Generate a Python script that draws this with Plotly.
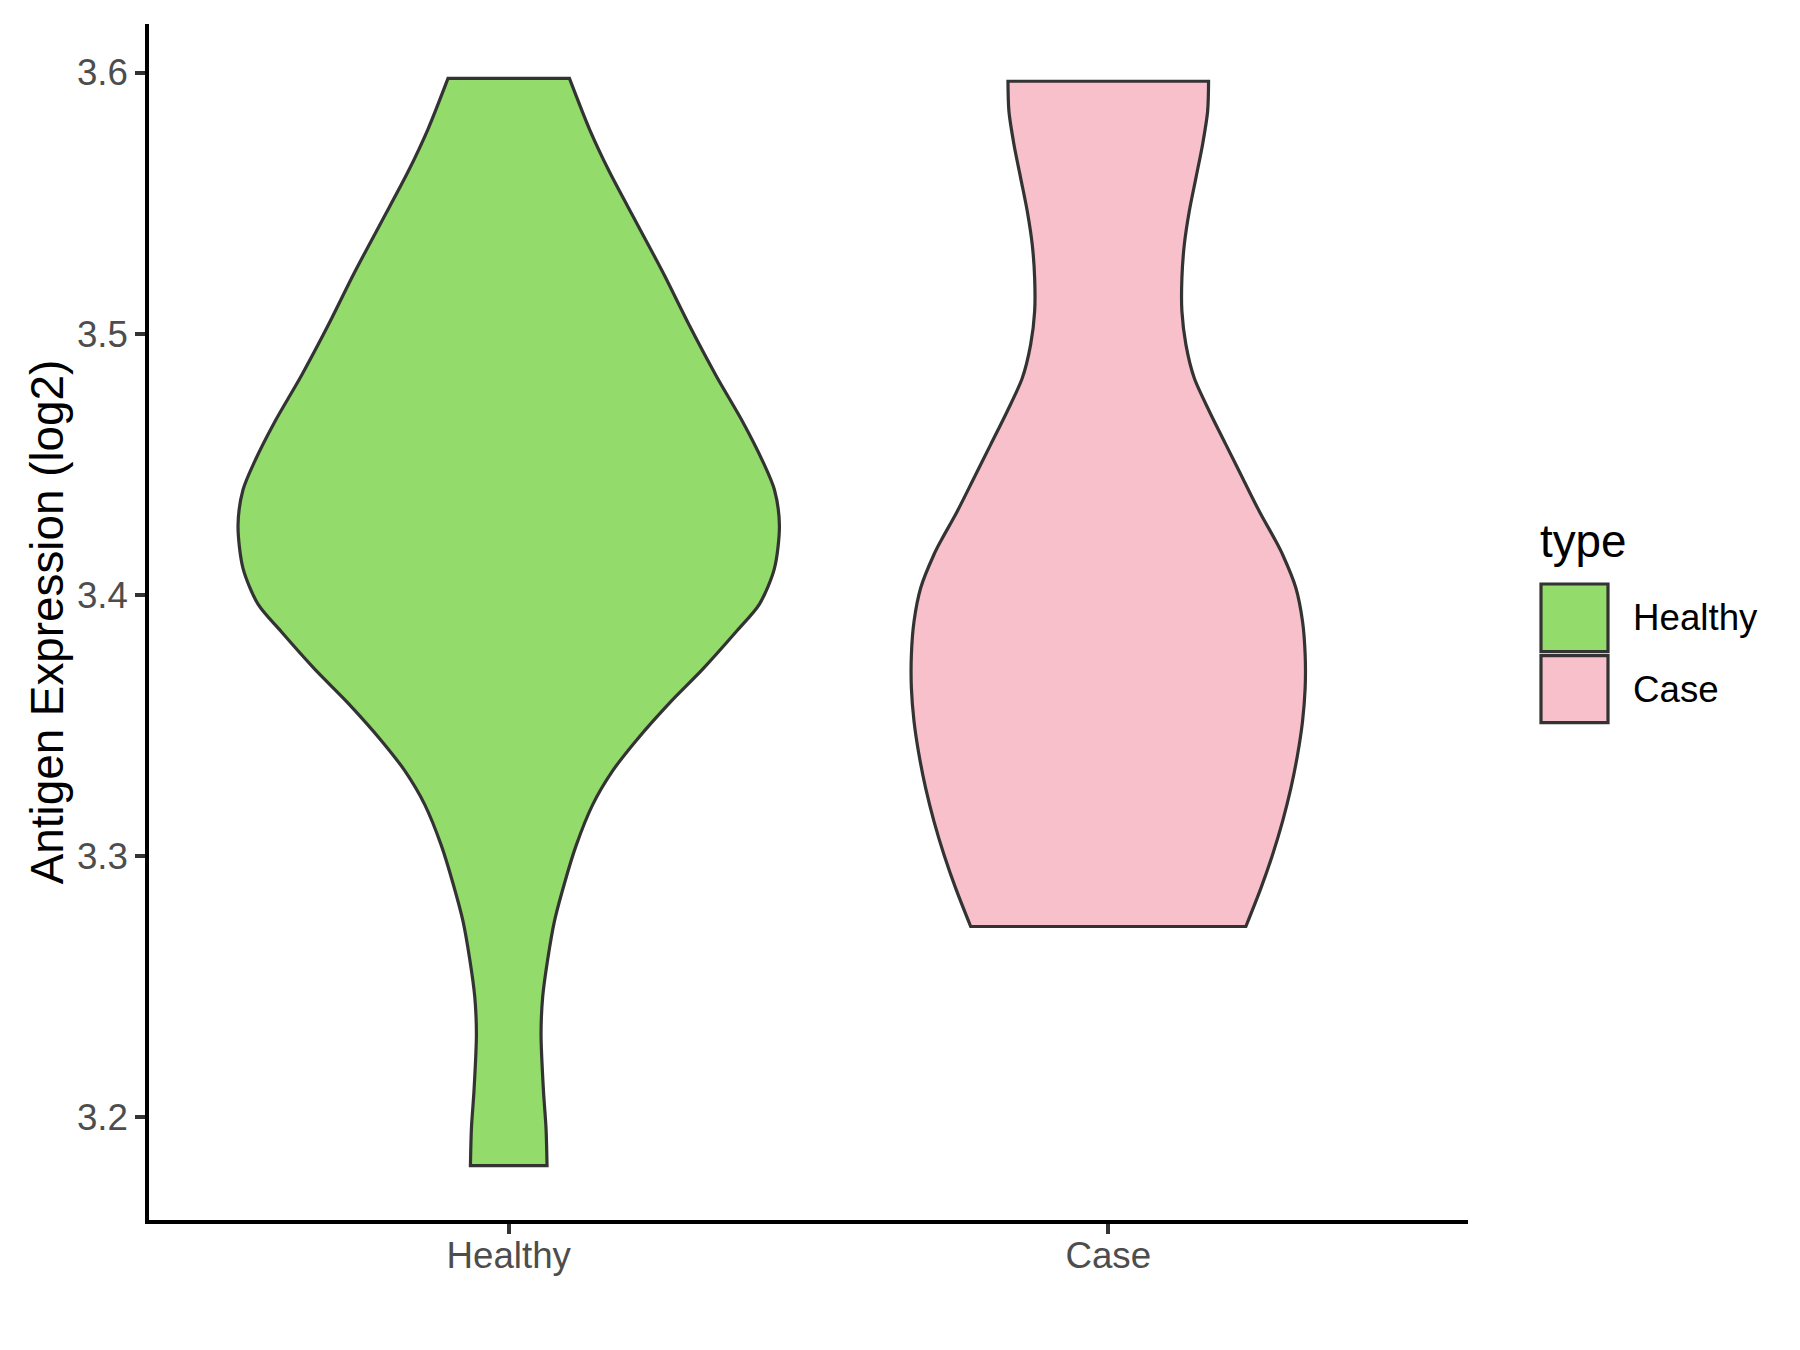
import plotly.graph_objects as go
import numpy as np

# violin outlines: expression level vs half-width (in category units)
healthy_y = [3.5978, 3.5784, 3.5620, 3.5428, 3.5236, 3.5031, 3.4839, 3.4662, 3.4511, 3.4402,
             3.4265, 3.4101, 3.3964, 3.3859, 3.3715, 3.3585, 3.3441, 3.3326, 3.3196, 3.3038,
             3.2894, 3.2749, 3.2605, 3.2461, 3.2317, 3.2101, 3.1957, 3.1813]
healthy_w = [0.1013, 0.1346, 0.1680, 0.2124, 0.2569, 0.3014, 0.3459, 0.3904, 0.4237, 0.4432,
             0.4515, 0.4432, 0.4182, 0.3796, 0.3236, 0.2680, 0.2124, 0.1735, 0.1401, 0.1122,
             0.0929, 0.0762, 0.0651, 0.0567, 0.0539, 0.0579, 0.0622, 0.0639]

case_y = [3.5967, 3.5852, 3.5725, 3.5597, 3.5469, 3.5341, 3.5213, 3.5086, 3.4958, 3.4830,
          3.4703, 3.4575, 3.4447, 3.4320, 3.4205, 3.4154, 3.4026, 3.3898, 3.3770, 3.3643,
          3.3515, 3.3387, 3.3259, 3.3132, 3.3004, 3.2876, 3.2729]
case_w = [0.1673, 0.1657, 0.1573, 0.1462, 0.1351, 0.1268, 0.1228, 0.1228, 0.1295, 0.1434,
          0.1685, 0.1962, 0.2240, 0.2518, 0.2795, 0.2907, 0.3129, 0.3240, 0.3284, 0.3284,
          0.3240, 0.3157, 0.3046, 0.2907, 0.2740, 0.2546, 0.2295]

groups = ["Healthy", "Case"]
colors = ["#93DB6A", "#F7C0CB"]
outline = "#333333"

W, H = 1800, 1350
L, R, T, B = 146, 1465, 24, 1220   # plot area in pixels (as seen on the page)
OFF_X, OFF_Y = 5, 8                 # page body offset


def px(x):
    return (x - L) / (R - L)


def py(y):
    return (B - y) / (B - T)


fig = go.Figure()
for i, (ys, ws) in enumerate([(healthy_y, healthy_w), (case_y, case_w)]):
    pos = i + 1
    ys = np.array(ys)
    ws = np.array(ws)
    # corner points doubled so the spline keeps the flat ends square
    right_x = np.concatenate([[pos + ws[0]], pos + ws, [pos + ws[-1]]])
    right_y = np.concatenate([[ys[0]], ys, [ys[-1]]])
    xs = np.concatenate([right_x, (2 * pos - right_x)[::-1], [right_x[0]]])
    yy = np.concatenate([right_y, right_y[::-1], [right_y[0]]])
    fig.add_trace(go.Scatter(x=xs, y=yy, mode="lines", fill="toself", fillcolor=colors[i],
                             line=dict(color=outline, width=3.2, shape="spline", smoothing=0.8),
                             name=groups[i], showlegend=False, hoverinfo="skip"))

lo = min(healthy_y + case_y)
hi = max(healthy_y + case_y)
pad = (hi - lo) * 0.05

fig.update_xaxes(range=[0.4, 2.6], tickvals=[1, 2], ticktext=groups,
                 showline=True, linecolor="black", linewidth=3.5,
                 ticks="outside", ticklen=10, tickwidth=3.5, tickcolor=outline,
                 ticklabelstandoff=-10,
                 tickfont=dict(size=36.7, color="#4D4D4D"), showgrid=False, zeroline=False)
fig.update_yaxes(range=[lo - pad, hi + pad], tickvals=[3.2, 3.3, 3.4, 3.5, 3.6],
                 ticktext=["3.2", "3.3", "3.4", "3.5", "3.6"],
                 showline=True, linecolor="black", linewidth=3.5,
                 ticks="outside", ticklen=10, tickwidth=3.5, tickcolor=outline,
                 tickfont=dict(size=36.7, color="#4D4D4D"), showgrid=False, zeroline=False,
                 title=dict(text="Antigen Expression (log2)", font=dict(size=45.8, color="black"),
                            standoff=0))

# legend drawn by hand to get ggplot-style square keys
keys = [(584, 651.7), (655.7, 722.7)]
for (y0, y1), c, g in zip(keys, colors, groups):
    fig.add_shape(type="rect", xref="paper", yref="paper",
                  x0=px(1538), x1=px(1605), y0=py(y1), y1=py(y0),
                  fillcolor=c, line=dict(color=outline, width=3.2))
    fig.add_annotation(x=px(1628), y=py((y0 + y1) / 2), xref="paper", yref="paper",
                       text=g, showarrow=False, xanchor="left", yanchor="middle",
                       font=dict(size=36.7, color="black"))
fig.add_annotation(x=px(1535), y=py(541), xref="paper", yref="paper", text="type",
                   showarrow=False, xanchor="left", yanchor="middle",
                   font=dict(size=45.8, color="black"))

fig.update_layout(width=W, height=H,
                  margin=dict(l=L - OFF_X, r=W - R + OFF_X, t=T - OFF_Y, b=H - B + OFF_Y),
                  font=dict(family="Liberation Sans, Arial, sans-serif"),
                  plot_bgcolor="white",
                  paper_bgcolor="white",
                  showlegend=False)
fig.write_html("out.html")
